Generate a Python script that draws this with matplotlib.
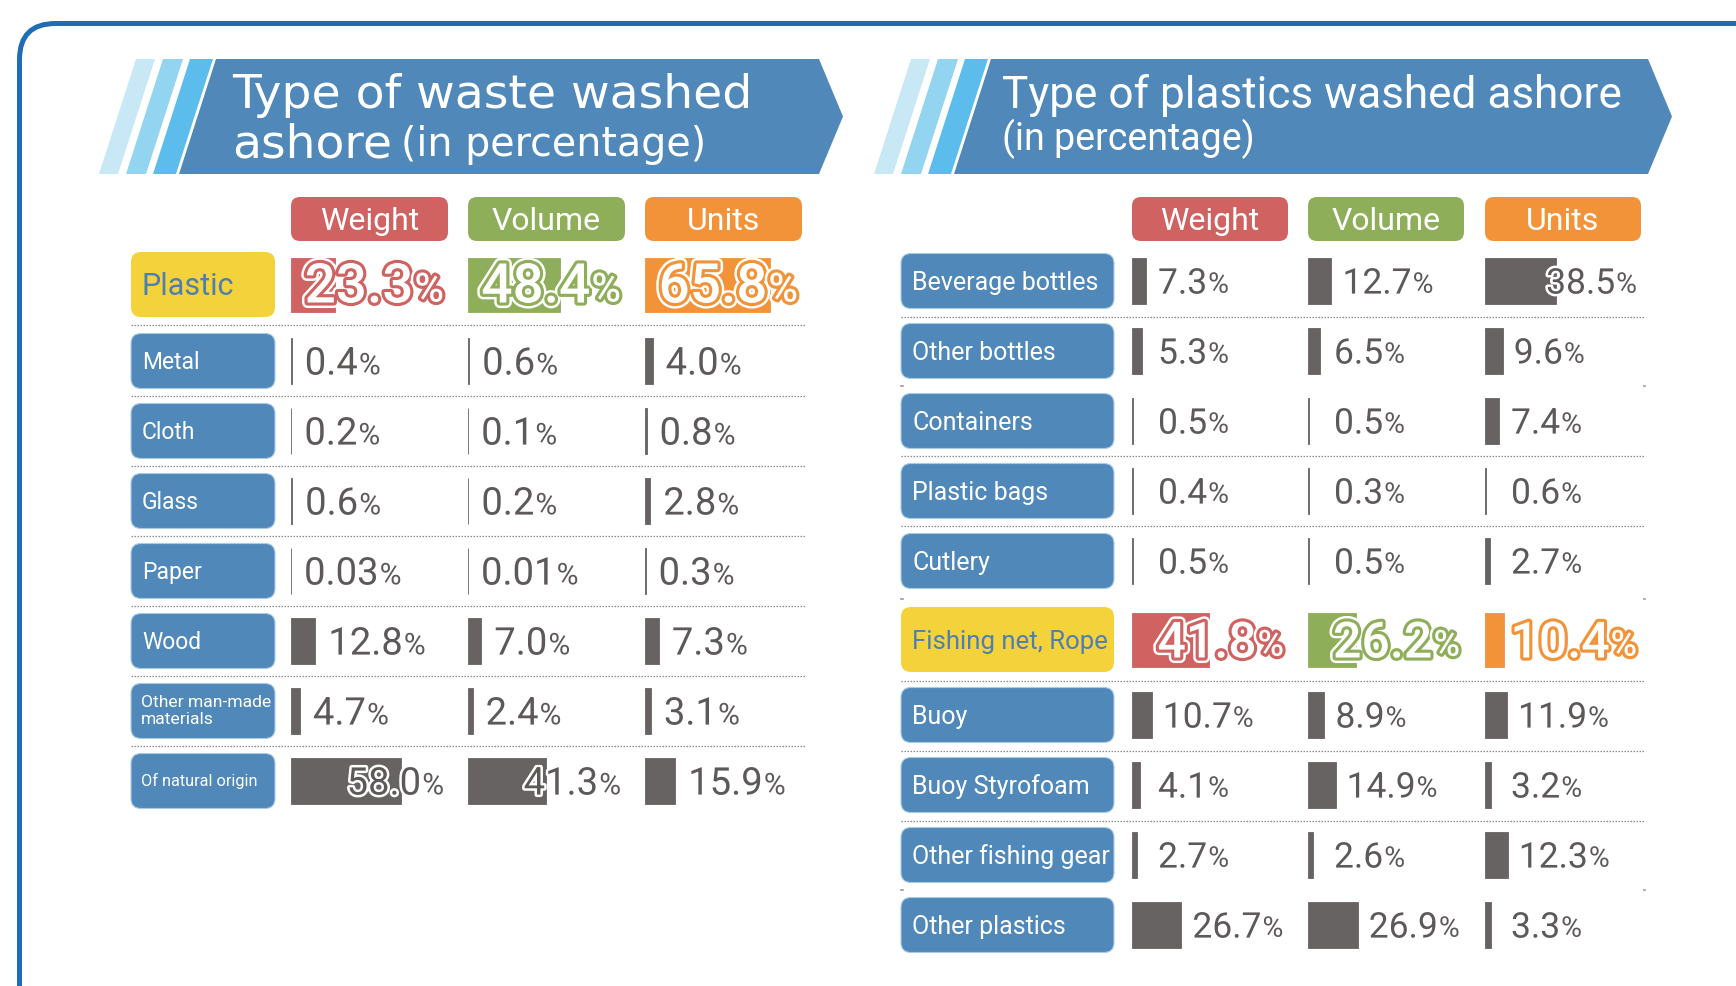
import matplotlib
matplotlib.use('Agg')
import matplotlib.pyplot as plt
import matplotlib.patheffects as pe
from matplotlib.patches import FancyBboxPatch, Polygon

plt.rcParams['font.family'] = ['Roboto', 'DejaVu Sans']

#%% data
metrics = ['Weight', 'Volume', 'Units']

waste_types = ['Plastic', 'Metal', 'Cloth', 'Glass', 'Paper', 'Wood',
               'Other man-made\nmaterials', 'Of natural origin']
waste_weight = [23.3, 0.4, 0.2, 0.6, 0.03, 12.8, 4.7, 58.0]
waste_volume = [48.4, 0.6, 0.1, 0.2, 0.01, 7.0, 2.4, 41.3]
waste_units = [65.8, 4.0, 0.8, 2.8, 0.3, 7.3, 3.1, 15.9]

plastic_types = ['Beverage bottles', 'Other bottles', 'Containers', 'Plastic bags',
                 'Cutlery', 'Fishing net, Rope', 'Buoy', 'Buoy Styrofoam',
                 'Other fishing gear', 'Other plastics']
plastic_weight = [7.3, 5.3, 0.5, 0.4, 0.5, 41.8, 10.7, 4.1, 2.7, 26.7]
plastic_volume = [12.7, 6.5, 0.5, 0.3, 0.5, 26.2, 8.9, 14.9, 2.6, 26.9]
plastic_units = [38.5, 9.6, 7.4, 0.6, 2.7, 10.4, 11.9, 3.2, 12.3, 3.3]

#%% colours
BLUE = '#4f88b9'
YELLOW = '#f3d23c'
GREY_BAR = '#676363'
GREY_TXT = '#5d5959'
METRIC_COL = ['#d06262', '#8fae5a', '#f29339']
STRIPES = ['#c8e8f6', '#93d4f0', '#5cbdec']
FRAME = '#1f6db5'

W, H = 1736, 986
PT = 100 / 72.0

fig = plt.figure(figsize=(W / 100, H / 100), dpi=100)
bg = fig.add_axes([0, 0, 1, 1])
bg.set_xlim(0, W)
bg.set_ylim(H, 0)
bg.axis('off')

tx = fig.add_axes([0, 0, 1, 1], zorder=5)
tx.set_xlim(0, W)
tx.set_ylim(H, 0)
tx.axis('off')
tx.patch.set_visible(False)

# outer frame
bg.add_patch(FancyBboxPatch((19.5, 23.5), W + 200, H + 200,
                            boxstyle='round,pad=0,rounding_size=36',
                            fc='white', ec=FRAME, lw=3.6))


def banner(x0, x1, top=59, bot=174, shift=37, tip=24):
    for off, w, c in zip([0, 27, 54], [19, 20, 23], STRIPES):
        bg.add_patch(Polygon([(x0 + off, bot), (x0 + off + w, bot),
                              (x0 + off + w + shift, top), (x0 + off + shift, top)],
                             closed=True, fc=c, ec='none'))
    b = x0 + 80
    bg.add_patch(Polygon([(b, bot), (b + shift, top), (x1, top),
                          (x1 + tip, (top + bot) / 2), (x1, bot)],
                         closed=True, fc=BLUE, ec='none'))


def cap(fs):
    return 0.711 * fs * PT


def fmt(v):
    return f'{v:.2f}' if v < 0.1 else f'{v:.1f}'


value_texts = []


def panel(names, series, hi, lab_x, lab_w, col_x, col_w, centers, scale,
          lab_fs, val_fs, pct_fs, hi_fs, hi_pct_fs, hi_lab_fs, gap, min_off,
          seps, small_fs):
    # headers
    for cx, name, col in zip(col_x, metrics, METRIC_COL):
        bg.add_patch(FancyBboxPatch((cx, 197), col_w, 44,
                                    boxstyle='round,pad=0,rounding_size=9',
                                    fc=col, ec='none'))
        bg.text(cx + col_w / 2, 219 + cap(23) / 2, name, fontsize=23,
                color='white', ha='center', va='baseline')

    heights = [65 if i == hi else 55 for i in range(len(names))]
    bar_h = [54 if i == hi else 46 for i in range(len(names))]

    # row labels
    for i, (name, yc, h) in enumerate(zip(names, centers, heights)):
        fc = YELLOW if i == hi else BLUE
        bg.add_patch(FancyBboxPatch((lab_x, yc - h / 2), lab_w, h,
                                    boxstyle='round,pad=0,rounding_size=10',
                                    fc=fc, ec='#a8cbe6' if i != hi else 'none', lw=0.8))
        if i == hi:
            bg.text(lab_x + 11, yc + cap(hi_lab_fs) / 2, name, fontsize=hi_lab_fs,
                    color='#4d80b0', va='baseline')
        elif name in small_fs:
            bg.text(lab_x + 10, yc, name, fontsize=small_fs[name], color='white',
                    va='center', linespacing=1.1)
        else:
            bg.text(lab_x + 11, yc + cap(lab_fs) / 2, name, fontsize=lab_fs,
                    color='white', va='baseline')

    # separators
    x_end = col_x[-1] + col_w + 4
    for y, full in seps:
        if full:
            bg.plot([lab_x, x_end], [y, y], color='#8c8c8c', lw=0.9,
                    ls=(0, (1.2, 1.2)))
        else:
            bg.plot([lab_x, lab_x + 1.5], [y, y], color='#9a9a9a', lw=1.2)
            bg.plot([x_end - 1.5, x_end], [y, y], color='#9a9a9a', lw=1.2)

    # bars and values
    for j, (cx, vals) in enumerate(zip(col_x, series)):
        bax = fig.add_axes([cx / W, 0, col_w / W, 1], zorder=2)
        bax.set_xlim(0, col_w / scale)
        bax.set_ylim(H, 0)
        bax.axis('off')
        bax.patch.set_visible(False)
        colors = [METRIC_COL[j] if i == hi else GREY_BAR for i in range(len(vals))]
        bax.barh(centers, vals, height=bar_h, left=0, color=colors,
                 edgecolor=colors, linewidth=0.6)

        for i, (v, yc) in enumerate(zip(vals, centers)):
            bar_end = bax.transData.transform((v, 0))[0]
            if i == hi:
                fs, pfs = hi_fs, hi_pct_fs
                eff = [pe.Stroke(linewidth=8, foreground='white'),
                       pe.Stroke(linewidth=4.5, foreground=METRIC_COL[j]),
                       pe.Normal()]
                col = 'white'
                yb = yc + 18
                wt = 'medium'
            else:
                fs, pfs = val_fs, pct_fs
                eff = [pe.Stroke(linewidth=3.6, foreground='white'), pe.Normal()]
                col = GREY_TXT
                yb = yc + cap(fs) / 2
                wt = 'normal'
            x = max(bar_end + gap, cx + min_off)
            t = tx.text(x, yb, fmt(v), fontsize=fs, color=col, va='baseline',
                        ha='left', path_effects=eff, fontweight=wt)
            dy = 0.271 * (fs - pfs) * PT
            p = tx.annotate('%', xy=(1, 0), xycoords=t, xytext=(1, dy),
                            textcoords='offset pixels', fontsize=pfs, color=col,
                            va='bottom', ha='left', path_effects=eff, fontweight=wt)
            value_texts.append((t, p, cx + col_w - 4))


#%% left panel
banner(99, 819)
bg.text(232, 108, 'Type of waste washed', fontsize=34, color='white',
        family='DejaVu Sans', va='baseline')
t2 = bg.text(232, 157, 'ashore', fontsize=34, color='white',
             family='DejaVu Sans', va='baseline')
bg.annotate('(in percentage)', xy=(1, 0), xycoords=t2, xytext=(9, 2),
            textcoords='offset pixels', fontsize=28.5, color='white',
            family='DejaVu Sans', va='bottom')

left_centers = [284.5, 361, 431, 501, 571, 641, 711, 781]
left_seps = [(325, True), (396, True), (466, True), (536, True),
             (606, True), (676, True), (746, True)]
panel(waste_types, [waste_weight, waste_volume, waste_units], 0,
      131, 144, [291, 468, 645], 157, left_centers, 1.9,
      lab_fs=16.5, val_fs=27.5, pct_fs=21.5, hi_fs=39.5, hi_pct_fs=29,
      hi_lab_fs=22, gap=13, min_off=13, seps=left_seps,
      small_fs={'Other man-made\nmaterials': 12.6, 'Of natural origin': 11.7})

#%% right panel
banner(874, 1648)
tx.text(1002, 108, 'Type of plastics washed ashore', fontsize=31.8, color='white',
        va='baseline')
tx.text(1002, 150, '(in percentage)', fontsize=27, color='white', va='baseline')

right_centers = [281, 351, 421, 491, 561, 639.5, 715, 785, 855, 925]
right_seps = [(317, True), (386, False), (456, True), (526, True), (599, False),
              (681, True), (751, True), (821, True), (890, False)]
panel(plastic_types, [plastic_weight, plastic_volume, plastic_units], 5,
      901, 213, [1132, 1308, 1485], 156, right_centers, 1.85,
      lab_fs=18, val_fs=25.5, pct_fs=20.5, hi_fs=36, hi_pct_fs=26,
      hi_lab_fs=18.5, gap=11, min_off=26, seps=right_seps, small_fs={})

#%% keep values inside their column
fig.canvas.draw()
for t, p, limit in value_texts:
    right = p.get_window_extent().x1
    if right > limit:
        x, y = t.get_position()
        t.set_x(x - (right - limit))

fig.savefig('out.png', dpi=100, facecolor='white')
